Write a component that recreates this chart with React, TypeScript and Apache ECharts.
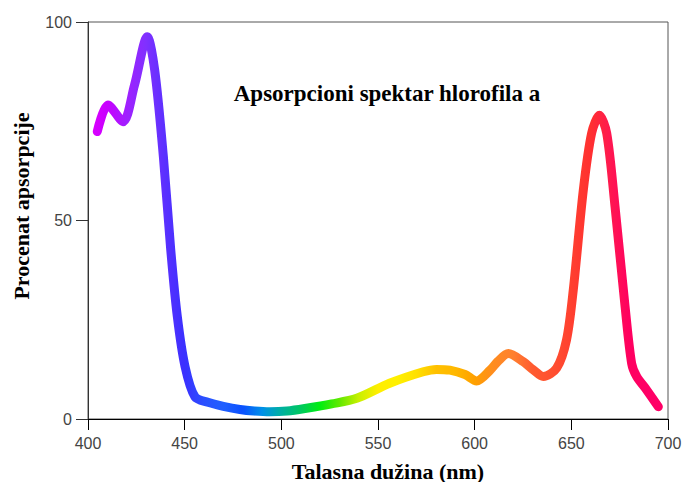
import React, { useEffect, useRef } from "react";
import * as echarts from "echarts";

const wavelengths = [404.8, 410.3, 418.1, 424, 430.7, 434.5, 439, 442.8, 446.2, 450.2, 455.3, 462, 470, 478.6, 486, 494, 503, 513, 526, 539, 556, 573.4, 580.3, 587.2, 595, 601, 608, 612, 617.4, 625.2, 630, 635.5, 642.4, 647.5, 651, 656.2, 660.5, 664.5, 668.3, 672.6, 677.8, 681.2, 683.8, 689, 695];
const absorption = [72.4, 79.1, 74.9, 84, 96.3, 87.9, 66, 42.6, 25.8, 13.2, 5.6, 4.2, 3.2, 2.4, 2.0, 1.8, 2.0, 2.7, 3.8, 5.2, 9, 11.9, 12.5, 12.3, 11.2, 9.6, 12.3, 14.5, 16.5, 14.4, 12.5, 10.7, 12.8, 19.9, 32.5, 57.7, 72, 76.5, 72, 53.5, 28.3, 14, 10.7, 7.3, 3.1];
const xTicks = [400, 450, 500, 550, 600, 650, 700];
const yTicks = [0, 50, 100];

const titleText = "Apsorpcioni spektar hlorofila a";
const xTitle = "Talasna dužina (nm)";
const yTitle = "Procenat apsorpcije";

// spectrum colours every 10 nm from 400 to 700
const spectrum = [
  "#e000ff", "#c800ff", "#a020ff", "#8030ff", "#5a30ff", "#3a30ff", "#2a50ff", "#2060ff",
  "#0a50ff", "#0090e8", "#00b0a0", "#00c860", "#00ee10", "#60e800", "#c8f000", "#ffee00",
  "#fff000", "#ffe000", "#ffc000", "#ffb800", "#ffa000", "#ff8c20", "#ff8030", "#ff5a30",
  "#ff5030", "#ff4030", "#ff3030", "#ff1850", "#ff0060", "#ff0066", "#ff0066",
];

export default function App() {
  const ref = useRef<HTMLDivElement>(null);
  useEffect(() => {
    if (!ref.current) return;
    const chart = echarts.init(ref.current, undefined, { renderer: "svg" });
    const data = wavelengths.map((w, i) => [w, absorption[i]]);
    const sans = "Liberation Sans";
    const serif = "Liberation Serif";
    chart.setOption({
      animation: false,
      backgroundColor: "#ffffff",
      grid: {
        left: 88,
        top: 22,
        right: 18,
        bottom: 63,
        show: true,
        borderColor: "#555",
        borderWidth: 1,
        backgroundColor: "transparent",
      },
      xAxis: {
        type: "value",
        min: 400,
        max: 700,
        interval: 50,
        axisLine: { show: true, lineStyle: { color: "#000", width: 1 } },
        axisTick: { show: true, length: 11, lineStyle: { color: "#000" } },
        axisLabel: {
          margin: 16,
          color: "#444",
          fontFamily: sans,
          fontSize: 16,
          formatter: (v: number) => (xTicks.includes(v) ? String(v) : ""),
        },
        splitLine: { show: false },
      },
      yAxis: {
        type: "value",
        min: 0,
        max: 100,
        interval: 50,
        axisLine: { show: true, lineStyle: { color: "#333", width: 1 } },
        axisTick: { show: true, length: 12, lineStyle: { color: "#333" } },
        axisLabel: {
          margin: 16,
          color: "#444",
          fontFamily: sans,
          fontSize: 16,
          formatter: (v: number) => (yTicks.includes(v) ? String(v) : ""),
        },
        splitLine: { show: false },
      },
      visualMap: {
        show: false,
        type: "continuous",
        dimension: 0,
        min: 400,
        max: 700,
        inRange: { color: spectrum },
      },
      series: [
        {
          type: "line",
          data,
          smooth: 0.3,
          symbol: "none",
          lineStyle: { width: 9, cap: "round", join: "round" },
        },
      ],
      graphic: [
        {
          type: "text",
          x: 387,
          y: 93,
          style: {
            text: titleText,
            font: `bold 23px "${serif}"`,
            fill: "#000",
            align: "center",
            verticalAlign: "middle",
          },
        },
        {
          type: "text",
          x: 388,
          y: 471,
          style: {
            text: xTitle,
            font: `bold 22px "${serif}"`,
            fill: "#000",
            align: "center",
            verticalAlign: "middle",
          },
        },
        {
          type: "text",
          x: 21,
          y: 206,
          rotation: Math.PI / 2,
          style: {
            text: yTitle,
            font: `bold 22px "${serif}"`,
            fill: "#000",
            align: "center",
            verticalAlign: "middle",
          },
        },
      ],
    });
    return () => chart.dispose();
  }, []);
  return <div ref={ref} style={{ width: 686, height: 482, position: "absolute", left: 0, top: 0 }} />;
}
